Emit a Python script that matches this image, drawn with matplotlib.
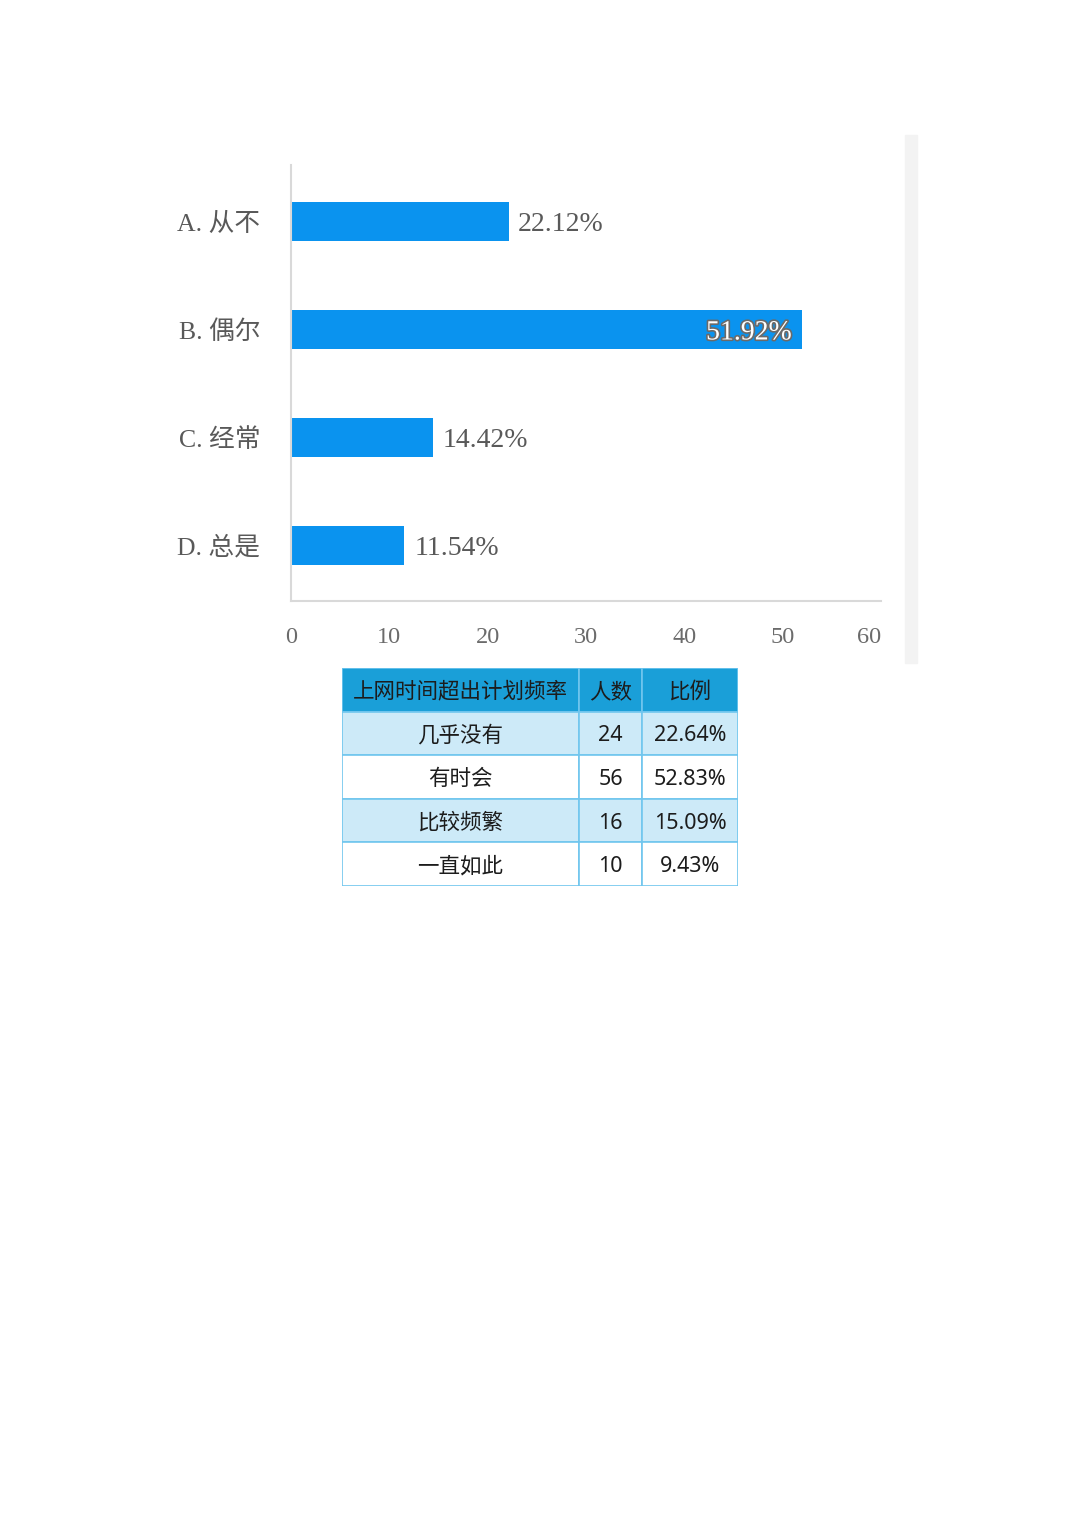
import matplotlib
matplotlib.use("Agg")
import matplotlib.pyplot as plt
import matplotlib.patheffects as pe
from matplotlib.patches import Rectangle

# chart data
categories = ["A. 从不", "B. 偶尔", "C. 经常", "D. 总是"]
percents = [22.12, 51.92, 14.42, 11.54]
x_ticks = [0, 10, 20, 30, 40, 50, 60]

# table data
table_header = ["上网时间超出计划频率", "人数", "比例"]
table_items = ["几乎没有", "有时会", "比较频繁", "一直如此"]
table_counts = [24, 56, 16, 10]
table_ratios = ["22.64%", "52.83%", "15.09%", "9.43%"]

W, H = 1080, 1527
serif = ["Liberation Serif", "Noto Sans CJK SC"]
sans = ["Noto Sans", "Noto Sans CJK SC", "DejaVu Sans"]

fig = plt.figure(figsize=(W / 100, H / 100), dpi=100)
fig.patch.set_facecolor("white")


def fig_box(x0, y0, x1, y1):
    """pixel box (top-left origin) -> figure fraction rect"""
    return [x0 / W, 1 - y1 / H, (x1 - x0) / W, (y1 - y0) / H]


# light grey strip at the right edge of the chart picture
fig.patches.append(Rectangle((905 / W, 1 - 663 / H), 12 / W, 528 / H,
                             transform=fig.transFigure, color="#f3f3f3", zorder=0))

# ---- bar chart ----
ax = fig.add_axes(fig_box(291, 165, 881, 601))
pos = list(range(len(categories)))
ax.barh(pos, percents, height=0.36, color="#0a93ef", zorder=2)
ax.set_xlim(0, 60)
ax.set_ylim(3.514, -0.523)
ax.set_yticks(pos)
ax.set_yticklabels(categories, family=serif, fontsize=18.5, color="#595959")
ax.set_xticks(x_ticks)
ax.set_xticklabels([str(t) for t in x_ticks], family=serif, fontsize=17.5, color="#6b6b6b")
ax.get_xticklabels()[-1].set_horizontalalignment("right")
ax.tick_params(axis="y", length=0, pad=22)
ax.tick_params(axis="x", length=0, pad=19)
for s in ["top", "right"]:
    ax.spines[s].set_visible(False)
for s in ["left", "bottom"]:
    ax.spines[s].set_color("#d9d9d9")
    ax.spines[s].set_linewidth(1.5)

for i, v in enumerate(percents):
    label = f"{v:.2f}%"
    if v > 40:
        ax.annotate(label, (v, i), xytext=(-7, -2.5), textcoords="offset points",
                    ha="right", va="center", family=serif, fontsize=20, color="white",
                    path_effects=[pe.withStroke(linewidth=2.4, foreground="#6a6a6a")])
    else:
        ax.annotate(label, (v, i), xytext=(7, -2.5), textcoords="offset points",
                    ha="left", va="center", family=serif, fontsize=20, color="#595959")

# ---- table ----
tx = fig.add_axes(fig_box(342, 668, 738, 886))
col_edges = [0, 237, 300, 396]
row_h = 218 / 5
tx.set_xlim(0, 396)
tx.set_ylim(218, 0)
tx.axis("off")

rows = [table_header] + [[a, str(b), c] for a, b, c in zip(table_items, table_counts, table_ratios)]
for r, row in enumerate(rows):
    if r == 0:
        bg = "#1a9fd8"
    elif r % 2 == 1:
        bg = "#cdeaf8"
    else:
        bg = "white"
    for c, txt in enumerate(row):
        x0, x1 = col_edges[c], col_edges[c + 1]
        tx.add_patch(Rectangle((x0, r * row_h), x1 - x0, row_h, facecolor=bg,
                               edgecolor="#71c6ee", linewidth=1.2))
        tx.text((x0 + x1) / 2, (r + 0.5) * row_h + 2.5, txt, ha="center", va="center",
                family=sans, fontsize=15.5, color="#1c1c1c")

fig.savefig("out.png", dpi=100)
